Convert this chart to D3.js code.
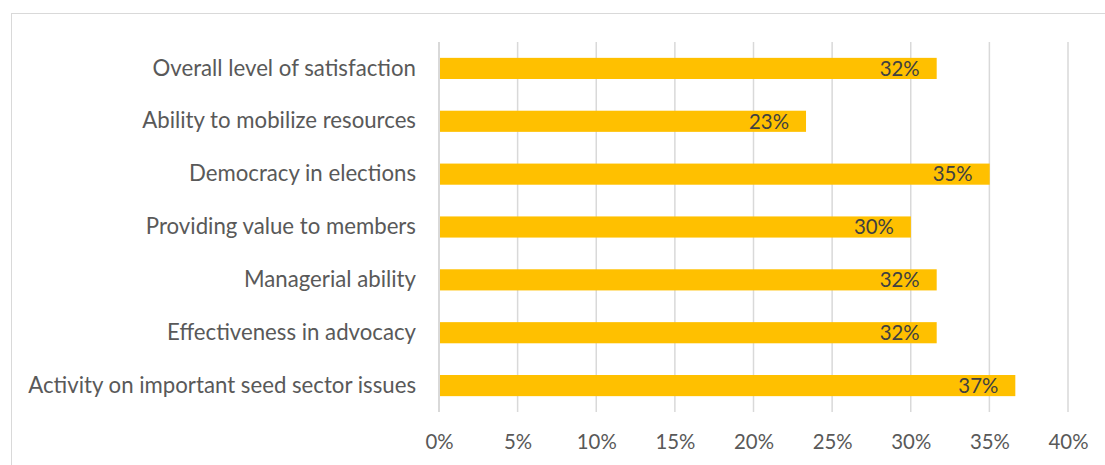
<!DOCTYPE html>
<html>
<head>
<meta charset="utf-8">
<script src="https://cdn.jsdelivr.net/npm/d3@7"></script>
<style>
  html, body { margin: 0; padding: 0; background: #fff; }
  svg { display: block; }
  text { font-family: Lato, "Open Sans", "Liberation Sans", sans-serif; }
</style>
</head>
<body>
<svg id="chart" width="1105" height="465"></svg>
<script>
// Survey ratings, listed top to bottom
const categories = [
  "Overall level of satisfaction",
  "Ability to mobilize resources",
  "Democracy in elections",
  "Providing value to members",
  "Managerial ability",
  "Effectiveness in advocacy",
  "Activity on important seed sector issues"
];
const values = [0.3165, 0.2334, 0.3502, 0.3001, 0.3165, 0.3165, 0.3665];
const xTicks = [0, 0.05, 0.10, 0.15, 0.20, 0.25, 0.30, 0.35, 0.40];

const svg = d3.select("#chart");
const W = 1105, H = 465;
const plot = { left: 439, right: 1068, top: 42, bottom: 412 };

const x = d3.scaleLinear().domain([0, 0.40]).range([plot.left, plot.right]);
const y = d3.scaleBand().domain(categories).range([plot.top, plot.bottom]).paddingInner(0.6).paddingOuter(0.3);
const pct = d3.format(".0%");

// Chart frame
svg.append("rect")
  .attr("x", 11.5).attr("y", 13.5)
  .attr("width", W + 20).attr("height", H + 20)
  .attr("fill", "none").attr("stroke", "#d9d9d9").attr("stroke-width", 1);

// Size a font so a sample string spans a given width
function fitSize(sample, targetWidth, base) {
  const t = svg.append("text").attr("font-size", base).text(sample);
  const w = t.node().getComputedTextLength();
  t.remove();
  return base * targetWidth / w;
}
const catSize = fitSize(categories[6], 388, 20);
const numSize = fitSize("20%", 40, 20);

// Vertical gridlines
svg.append("g")
  .selectAll("line")
  .data(xTicks.slice(1))
  .join("line")
  .attr("x1", d => x(d)).attr("x2", d => x(d))
  .attr("y1", plot.top).attr("y2", plot.bottom)
  .attr("stroke", "#d9d9d9").attr("stroke-width", 1.5);

// Bars
svg.append("g")
  .selectAll("rect")
  .data(values)
  .join("rect")
  .attr("x", x(0))
  .attr("y", (d, i) => y(categories[i]))
  .attr("width", d => x(d) - x(0))
  .attr("height", y.bandwidth())
  .attr("fill", "#FFC000");

// Category axis line
svg.append("line")
  .attr("x1", x(0)).attr("x2", x(0))
  .attr("y1", plot.top).attr("y2", plot.bottom)
  .attr("stroke", "#d9d9d9").attr("stroke-width", 2);

// Value labels, inside the bar end
svg.append("g")
  .selectAll("text")
  .data(values)
  .join("text")
  .attr("x", d => x(d) - 17)
  .attr("y", (d, i) => y(categories[i]) + y.bandwidth() / 2)
  .attr("dy", "0.36em")
  .attr("text-anchor", "end")
  .attr("font-size", numSize)
  .attr("fill", "#404040")
  .text(d => pct(d));

// Category labels
const yAxis = d3.axisLeft(y).tickSize(0).tickPadding(23);
const gy = svg.append("g").attr("transform", `translate(${x(0)},0)`).call(yAxis);
gy.select(".domain").remove();
gy.selectAll("text")
  .attr("font-size", catSize)
  .attr("font-family", null)
  .attr("fill", "#595959");

// Value axis labels
const xAxis = d3.axisBottom(x).tickValues(xTicks).tickFormat(pct).tickSize(0).tickPadding(0);
const gx = svg.append("g").attr("transform", `translate(0,${plot.bottom})`).call(xAxis);
gx.select(".domain").remove();
gx.selectAll("text")
  .attr("y", 30)
  .attr("dy", "0.36em")
  .attr("font-size", numSize)
  .attr("font-family", null)
  .attr("fill", "#595959");
</script>
</body>
</html>
